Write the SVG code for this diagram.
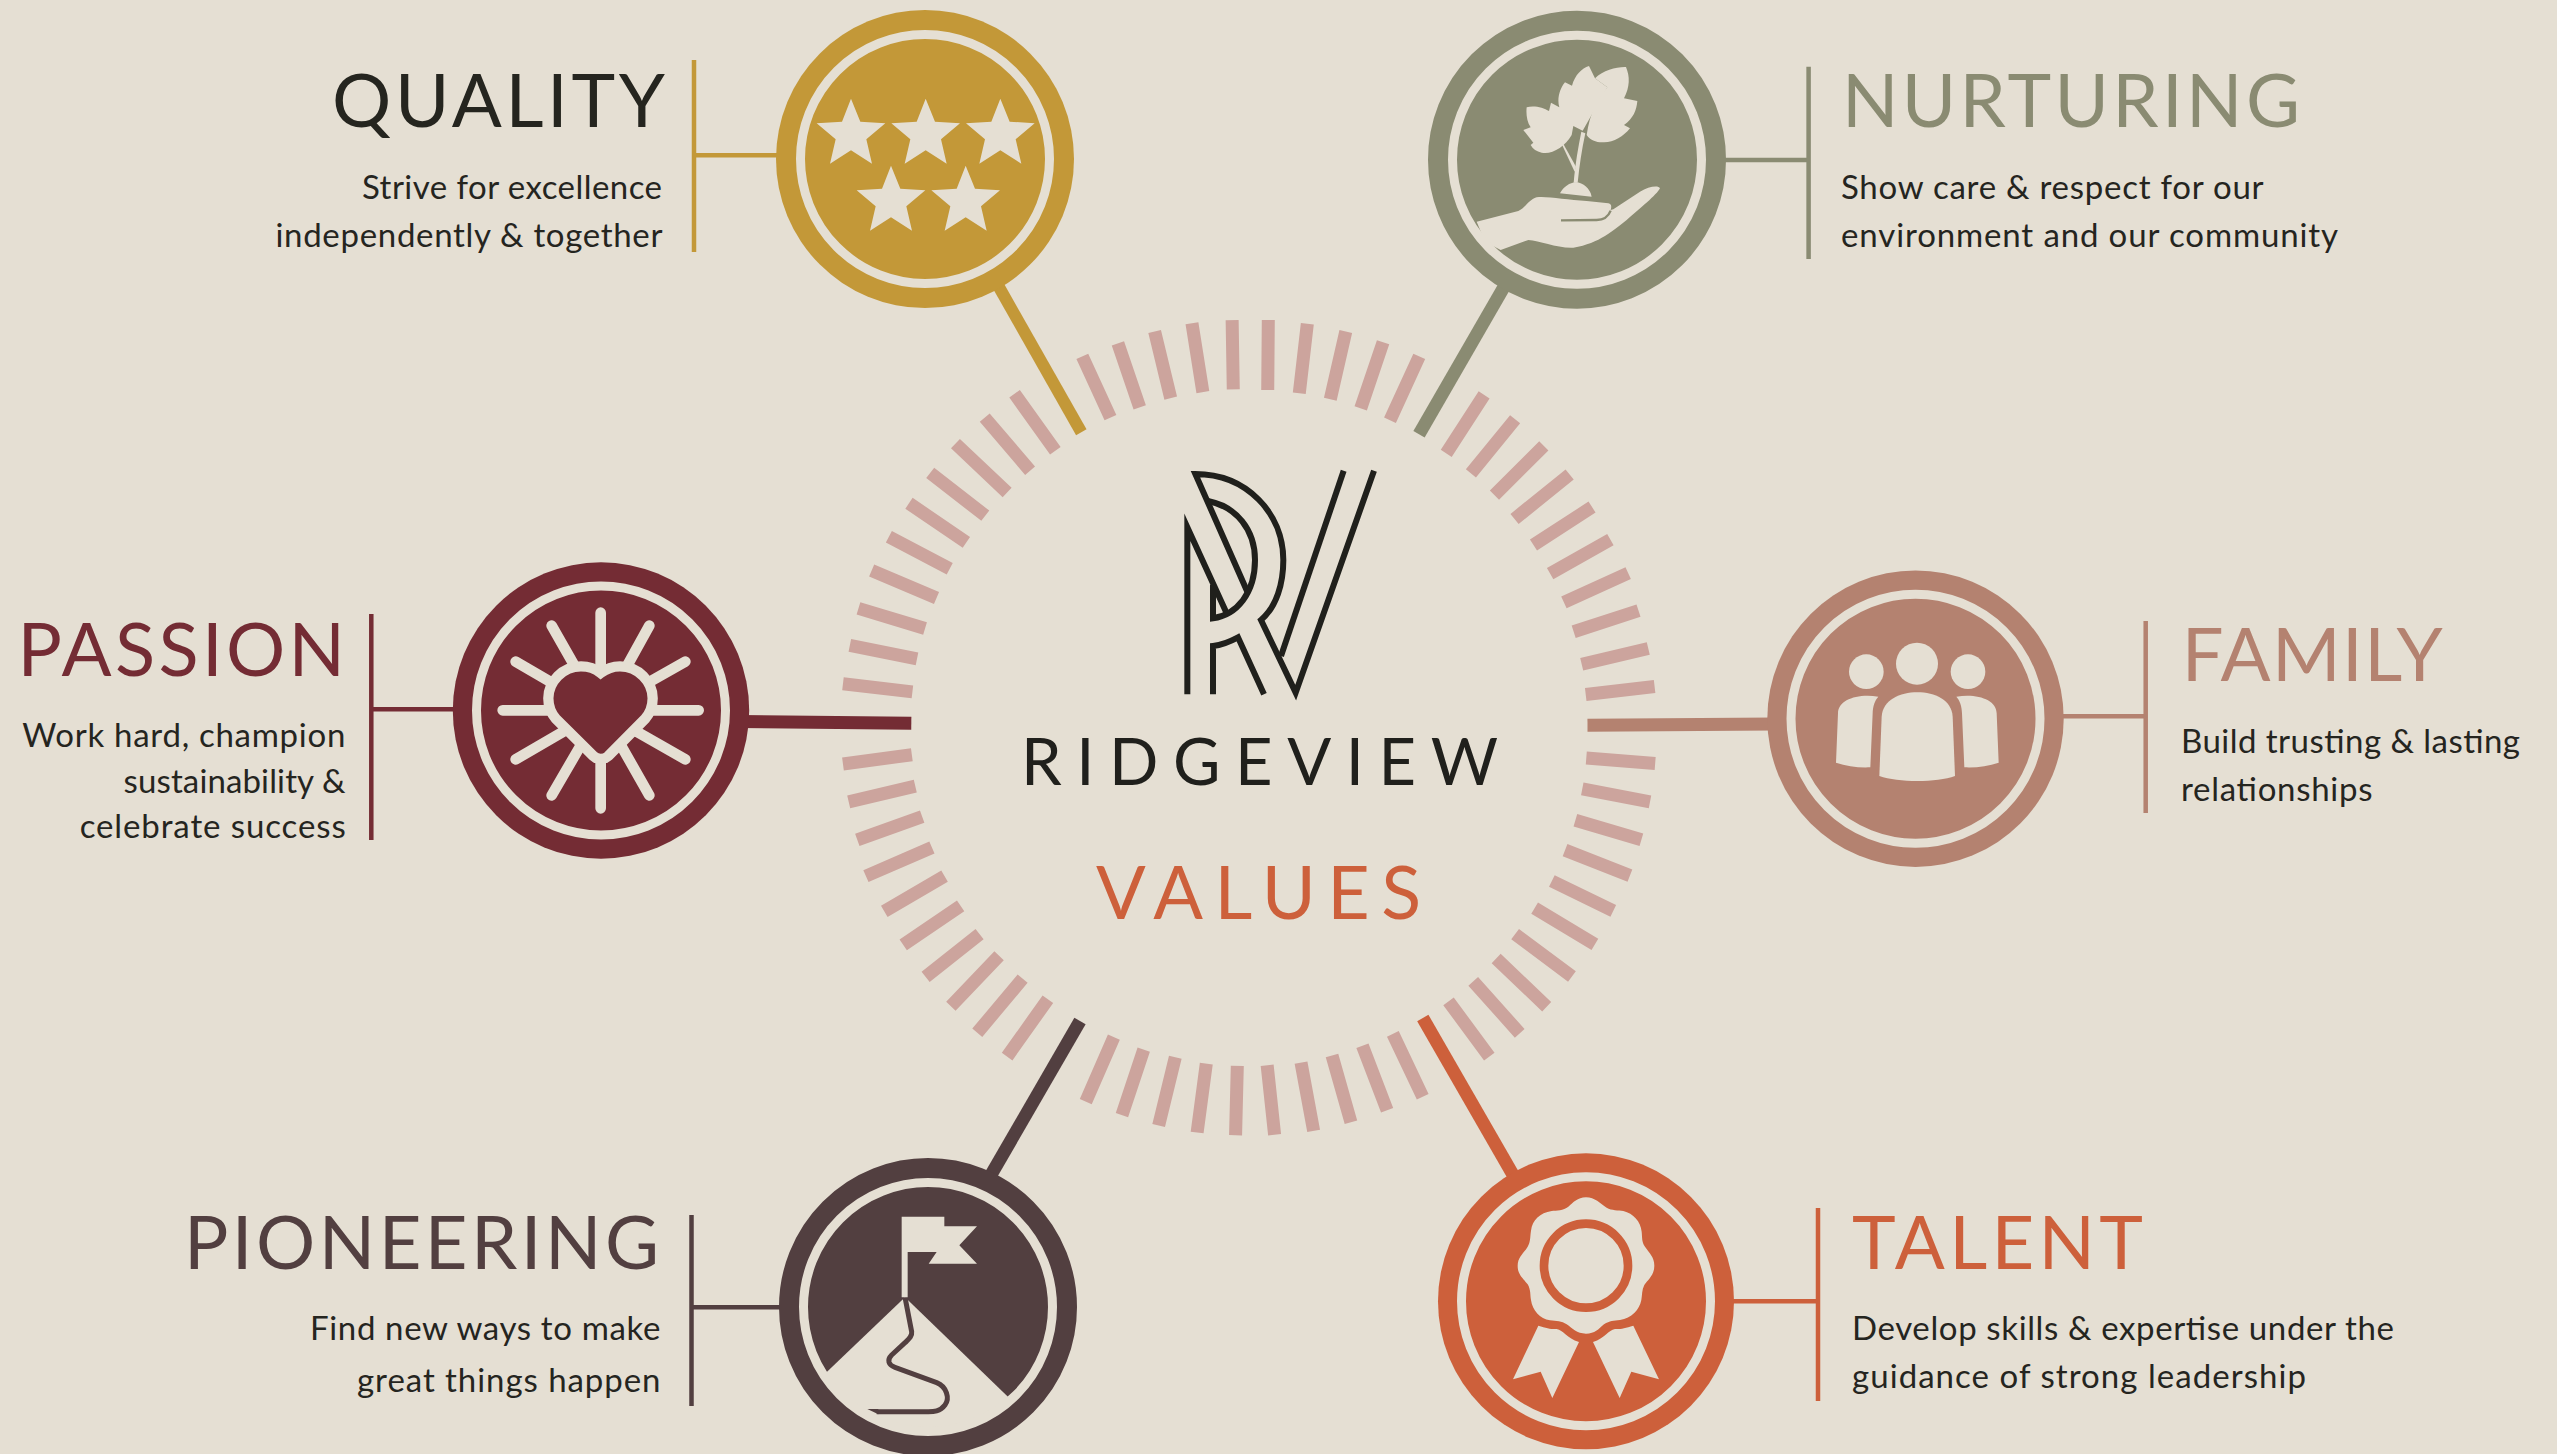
<svg xmlns="http://www.w3.org/2000/svg" width="2557" height="1454" viewBox="0 0 2557 1454">
<style>
text{font-family:Lato,"Liberation Sans",sans-serif}
.h{font-size:74px}
.b{font-size:33px;fill:#25251f}
.l{fill:none;stroke-linecap:butt}
.bg{fill:#E5DFD3}
.ring{fill:none;stroke:#E5DFD3;stroke-width:9}
.gold{fill:#C39838;stroke:#C39838}.olive{fill:#8A8B72;stroke:#8A8B72}.mar{fill:#742C34;stroke:#742C34}
.fam{fill:#B48270;stroke:#B48270}.pio{fill:#523F40;stroke:#523F40}.tal{fill:#CD603B;stroke:#CD603B}
text.gold,text.olive,text.mar,text.fam,text.pio,text.tal{stroke:none}
circle.d{stroke:none}
circle.band{fill:none;stroke-width:24}
</style>
<defs><polygon id="star" points="303,296 331,365 406,370 349,418 366,491 303,451 240,491 257,418 200,370 276,365"/></defs>
<rect width="2557" height="1454" fill="#E5DFD3"/>

<g id="ring-ticks">
<path transform="translate(820,300) scale(.574,.542)" vector-effect="non-scaling-stroke" fill="none" stroke="#CCA49D" stroke-width="13" d="M781,37L780,166M849,44L835,172M916,58L889,183M981,78L942,200M1044,104L993,222M1157,175L1091,283M1211,220L1134,320M1261,269L1175,360M1306,322L1210,404M1345,382L1243,452M1377,442L1272,505M1408,504L1296,558M1426,573L1313,612M1443,643L1327,672M1454,713L1334,728M1455,855L1335,845M1446,926L1328,902M1431,996L1316,960M1411,1062L1298,1015M1382,1127L1275,1072M1350,1189L1245,1122M1310,1248L1211,1170M1266,1304L1178,1215M1219,1353L1138,1257M1166,1396L1095,1294M1050,1470L998,1354M988,1495L945,1376M925,1517L892,1394M860,1533L838,1407M792,1540L779,1412M724,1541L727,1413M657,1536L673,1409M590,1523L619,1397M526,1504L564,1383M463,1479L512,1360M326,1396L397,1290M274,1352L353,1252M228,1303L312,1210M184,1249L278,1170M145,1190L245,1118M112,1128L217,1063M80,1063L195,1010M65,996L178,953M50,926L166,897M40,856L160,839M40,708L161,723M52,637L169,662M67,569L183,606M90,499L203,550M120,437L226,496M155,375L255,447M192,319L288,398M236,265L326,355M287,217L366,315M339,173L410,278M457,104L506,217M519,80L557,198M583,58L611,181M648,43L667,170M718,37L720,165"/>
</g>

<g id="connectors">
<path class="l" stroke="#C39838" stroke-width="12" d="M995,280L1081.3,432.3"/>
<path class="l" stroke="#8A8B72" stroke-width="13" d="M1508,280L1419,434.3"/>
<path class="l" stroke="#742C34" stroke-width="13" d="M740,721.5L911.3,723.3"/>
<path class="l" stroke="#B48270" stroke-width="13" d="M1587.5,725.3L1775,724"/>
<path class="l" stroke="#523F40" stroke-width="13" d="M1080,1021L988,1180"/>
<path class="l" stroke="#CD603B" stroke-width="13" d="M1422.8,1018L1516,1180"/>
<path class="l" stroke="#C39838" stroke-width="4.5" d="M694,60V252M694,155.3H780"/>
<path class="l" stroke="#8A8B72" stroke-width="4.5" d="M1808.6,66.7V259M1808.6,160H1720"/>
<path class="l" stroke="#742C34" stroke-width="4.5" d="M371.3,614V840M371.3,709.3H457"/>
<path class="l" stroke="#B48270" stroke-width="4.5" d="M2145.7,621V813M2145.7,716.3H2060"/>
<path class="l" stroke="#523F40" stroke-width="4.5" d="M691.5,1215V1406M691.5,1307.3H784"/>
<path class="l" stroke="#CD603B" stroke-width="4.5" d="M1818,1208V1401M1818,1301.3H1730"/>
</g>

<g id="quality">
<circle class="d gold" cx="925" cy="159" r="149"/>
<g class="bg" transform="translate(750,0) scale(.33333)">
<use href="#star"/><use href="#star" x="224"/><use href="#star" x="448"/><use href="#star" x="120" y="201"/><use href="#star" x="344" y="201"/>
</g>
<circle class="ring" cx="925" cy="159" r="124.5"/>
<text class="h" x="332" y="127" textLength="333" fill="#25251f">QUALITY</text>
<text class="b" x="362" y="198.7" textLength="300">Strive for excellence</text>
<text class="b" x="275.5" y="247.3" textLength="387">independently &amp; together</text>
</g>

<g id="nurturing">
<circle class="d olive" cx="1577" cy="159.7" r="148"/>
<g transform="translate(1400,0) scale(.33333)">
<path class="bg" d="M230,665L355,633C375,625 385,600 410,592C440,588 500,600 560,603L625,610C635,612 635,620 632,630L640,628L720,575C745,560 775,555 780,565C770,585 720,625 680,660C640,690 600,730 520,743C470,745 420,722 385,720L302,750L255,725Z"/>
<path fill="none" stroke="#8A8B72" stroke-width="7" d="M483,661L590,660C610,660 625,650 632,632"/>
<path class="bg" d="M480,580C490,560 510,548 527,547C550,548 570,565 575,590Z"/>
<path class="bg" d="M521,548C526,490 535,440 544,395L556,400C545,450 538,500 533,548Z"/>
<path class="bg" d="M524,515L484,430L488,428L528,500Z"/>
<path class="bg" d="M622,262L585,235L567,198C545,205 525,225 516,257L495,247C480,265 470,295 478,322L453,308L447,333C430,322 400,315 380,322C378,340 380,365 392,382L370,390L400,428L392,435C398,447 410,455 425,458C455,465 495,440 515,405L520,378L548,392Z"/>
<path class="bg" d="M622,262L585,235C610,210 650,200 678,201C690,230 690,260 672,295L712,303C710,330 700,355 672,375L690,385C670,410 640,428 610,427C590,428 570,420 560,405C570,340 590,300 622,262Z"/>
</g>
<circle class="band olive" cx="1577" cy="159.7" r="137"/>
<circle class="ring" cx="1577" cy="159.7" r="124.5"/>
<text class="h olive" x="1842" y="127" textLength="458">NURTURING</text>
<text class="b" x="1841" y="198.7" textLength="422.6">Show care &amp; respect for our</text>
<text class="b" x="1841" y="246.7" textLength="497">environment and our community</text>
</g>

<g id="passion">
<circle class="d mar" cx="601" cy="710.5" r="148.2"/>
<g transform="translate(430,540) scale(.33333)">
<path fill="none" stroke="#E5DFD3" stroke-width="32" stroke-linecap="round" d="M512,218V400M658,257L590,380M766,365L660,425M806,511H660M766,658L620,575M658,766L575,620M512,805V650M365,766L450,620M257,658L400,575M218,511H360M257,365L360,425M365,257L435,380"/>
<path fill="#742C34" stroke="#E5DFD3" stroke-width="31" d="M512,399C530,385 550,379 570,379C625,379 668,425 668,475C668,500 660,520 645,537L535,648C522,660 502,660 490,648L378,537C363,520 355,500 355,475C355,425 398,379 453,379C475,379 495,385 512,399Z"/>
</g>
<circle class="ring" cx="601" cy="710.5" r="124.5"/>
<text class="h mar" x="17.5" y="676" textLength="327.5">PASSION</text>
<text class="b" x="22.3" y="747.3" textLength="323">Work hard, champion</text>
<text class="b" x="123.5" y="793.3" textLength="222">sustainability &amp;</text>
<text class="b" x="79.7" y="838" textLength="266">celebrate success</text>
</g>

<g id="family">
<circle class="d fam" cx="1915.5" cy="718.7" r="148.2"/>
<g class="bg" transform="translate(1750,550) scale(.33333)">
<circle cx="501" cy="341" r="63"/><circle cx="349" cy="365" r="52"/><circle cx="654" cy="365" r="52"/>
<path d="M388,678L395,500C398,450 450,427 502,427C555,427 605,450 608,500L615,678C560,698 445,698 388,678Z"/>
<path d="M258,638L264,490C265,450 320,430 385,440C375,450 368,470 368,490L361,652C325,654 290,648 258,638Z"/>
<path d="M746,638L740,490C739,450 684,430 619,440C629,450 636,470 636,490L643,652C679,654 714,648 746,638Z"/>
</g>
<circle class="ring" cx="1915.5" cy="718.7" r="124.5"/>
<text class="h fam" x="2181.7" y="681.3" textLength="261">FAMILY</text>
<text class="b" x="2181" y="752.7" textLength="339">Build trusting &amp; lasting</text>
<text class="b" x="2181" y="800.7" textLength="191.5">relationships</text>
</g>

<g id="pioneering">
<circle class="d pio" cx="928" cy="1307" r="148"/>
<g transform="translate(750,1140) scale(.33333)">
<path class="bg" d="M465,472L195,730L300,860L533,920L760,860L820,815Z"/>
<path fill="none" stroke="#523F40" stroke-width="15" d="M465,472L485,575C487,590 475,598 465,608L425,645C410,660 415,675 435,682L560,728C590,740 600,775 585,795C570,815 550,815 535,815H380"/>
<path fill="#523F40" d="M385,807H352L385,823Z"/>
<path class="bg" d="M455,472V230H583V259H681L628,316L681,371H536L560,336H473V472Z"/>
</g>
<circle class="band pio" cx="928" cy="1307" r="137"/>
<circle class="ring" cx="928" cy="1307" r="124.5"/>
<text class="h pio" x="184" y="1268.5" textLength="475">PIONEERING</text>
<text class="b" x="310" y="1340" textLength="350.5">Find new ways to make</text>
<text class="b" x="357" y="1392" textLength="303.5">great things happen</text>
</g>

<g id="talent">
<circle class="d tal" cx="1586" cy="1301.3" r="148"/>
<g transform="translate(1400,1140) scale(.33333)">
<path class="bg" d="M558,172C585,172 600,190 620,203C635,212 655,210 670,213C700,220 722,245 725,275C727,295 725,305 735,320C748,340 763,350 763,377C763,405 745,418 733,435C725,450 727,465 724,480C718,510 695,535 660,540C640,542 630,542 612,553C595,568 585,581 558,581C530,581 518,565 500,553C485,543 470,543 450,541C420,537 397,510 393,480C390,465 393,450 383,433C370,415 353,405 353,377C353,350 372,340 383,320C392,305 390,290 393,272C397,240 420,218 455,213C470,211 490,212 505,200C520,188 532,172 558,172Z"/>
<circle cx="558" cy="377" r="126" fill="none" stroke="#CD603B" stroke-width="26"/>
<path class="bg" d="M415,557C440,565 455,568 470,567C490,570 500,595 537,606L457,774L422,695L339,718Z"/>
<path class="bg" d="M700,557C675,565 660,568 645,567C625,570 615,595 579,606L659,774L694,695L777,718Z"/>
</g>
<circle class="ring" cx="1586" cy="1301.3" r="124.5"/>
<text class="h tal" x="1852" y="1269" textLength="291">TALENT</text>
<text class="b" x="1852" y="1340" textLength="542">Develop skills &amp; expertise under the</text>
<text class="b" x="1852" y="1387.5" textLength="454">guidance of strong leadership</text>
</g>

<g id="ridgeview-logo">
<g transform="translate(1000,450) scale(.33333)" fill="none" stroke="#20201C" stroke-width="18" stroke-miterlimit="12">
<path d="M562,733V232L680,490"/>
<path d="M639,733V588C665,585 690,575 714,562L792,733"/>
<path d="M1122,62L887,728L783,510C830,470 850,400 850,330C850,190 740,72 586,72L742,425"/>
<path d="M1031,62L843,618"/>
<path d="M624,153C710,170 765,240 765,330C765,430 710,495 639,505V405"/>
</g>
<text x="1021" y="785" font-size="65" textLength="477" fill="#20201C">RIDGEVIEW</text>
<text x="1096" y="919.3" font-size="73.5" textLength="325" fill="#CD603B">VALUES</text>
</g>
</svg>
